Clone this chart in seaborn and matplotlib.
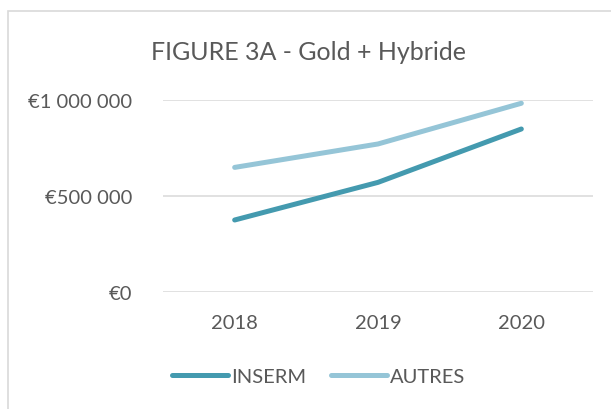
import matplotlib
matplotlib.use("Agg")
import matplotlib.pyplot as plt
import matplotlib.ticker as mticker
from matplotlib.patches import Rectangle
import seaborn as sns
import pandas as pd

years = ["2018", "2019", "2020"]
inserm = [375000, 571000, 849000]
autres = [649000, 771000, 983000]
series_names = ["INSERM", "AUTRES"]
colors = ["#449AAF", "#95C5D7"]
yticks = [0, 500000, 1000000]
title = "FIGURE 3A - Gold + Hybride"

df = pd.DataFrame({
    "year": years * 2,
    "x": list(range(len(years))) * 2,
    "value": inserm + autres,
    "serie": [series_names[0]] * len(years) + [series_names[1]] * len(years),
})

sns.set_theme(style="white")
plt.rcParams["font.family"] = ["Lato", "DejaVu Sans"]
text_color = "#595959"

fig = plt.figure(figsize=(6.11, 4.10), dpi=100)
fig.patches.append(Rectangle((8 / 611, -0.1), 1.2, 1 - 12 / 410 + 0.1,
                             transform=fig.transFigure, fill=False,
                             edgecolor="#D9D9D9", linewidth=1.2))
ax = fig.add_axes([163 / 611, 1 - 293 / 410, (593 - 163) / 611, (293 - 101) / 410])

sns.lineplot(data=df, x="x", y="value", hue="serie", palette=colors,
             linewidth=3.6, ax=ax, legend=True, sort=False)
for ln in ax.lines:
    ln.set_solid_capstyle("round")
    ln.set_clip_on(False)

ax.set_xlim(-0.5, len(years) - 0.5)
ax.set_ylim(0, 1000000)
ax.set_xticks(range(len(years)))
ax.set_xticklabels(years)
ax.set_yticks(yticks)

def fmt(v, pos):
    if v == 0:
        return "€0"
    return "€" + f"{int(v):,}".replace(",", " ")

ax.yaxis.set_major_formatter(mticker.FuncFormatter(fmt))
ax.tick_params(axis="both", length=0, labelsize=14.5, colors=text_color)
ax.tick_params(axis="x", pad=15.5)
ax.tick_params(axis="y", pad=22)
ax.grid(axis="y", color="#D9D9D9", linewidth=1.1)
ax.set_axisbelow(True)
for s in ax.spines.values():
    s.set_visible(False)
ax.set_xlabel("")
ax.set_ylabel("")

fig.text(308.5 / 611, 1 - 52 / 410, title, ha="center", va="center",
         fontsize=18, color=text_color)

handles, labels = ax.get_legend_handles_labels()
for h in handles:
    h.set_linewidth(3.6)
    h.set_solid_capstyle("round")
leg = ax.legend(handles, labels, loc="center", bbox_to_anchor=(318.5 / 611, 1 - 377 / 410),
                bbox_transform=fig.transFigure, ncol=2, frameon=False,
                fontsize=14.5, handlelength=2.76, handletextpad=0.15, columnspacing=1.24)
for t in leg.get_texts():
    t.set_color(text_color)

fig.savefig("out.png", dpi=100)
